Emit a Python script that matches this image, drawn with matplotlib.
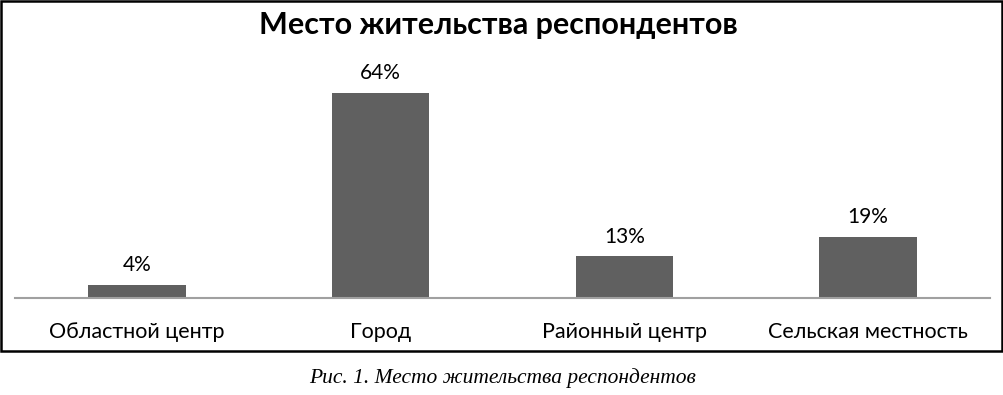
import matplotlib
matplotlib.use("Agg")
import matplotlib.pyplot as plt
from matplotlib.patches import Rectangle

categories = ["Областной центр", "Город", "Районный центр", "Сельская местность"]
values = [4, 64, 13, 19]
title = "Место жительства респондентов"
caption = "Рис. 1. Место жительства респондентов"

W, H = 1004, 395
fig = plt.figure(figsize=(W / 100, H / 100), dpi=100)

# axes placed in pixel terms: baseline at y=298, x from 15 to 990
ax = fig.add_axes([15 / W, (H - 298) / H, 975 / W, 224 / H])
x = list(range(len(categories)))
bars = ax.bar(x, values, width=0.4, color="#606060")
ax.set_xlim(-0.5, len(categories) - 0.5)
ax.set_ylim(0, 70)
ax.set_yticks([])
ax.set_xticks(x)
ax.set_xticklabels(categories, fontsize=15.5, family="Lato")
ax.tick_params(axis="x", length=0, pad=17)
for side in ["top", "left", "right"]:
    ax.spines[side].set_visible(False)
ax.spines["bottom"].set_color("#a0a0a0")
ax.spines["bottom"].set_linewidth(1.5)

for bar, v in zip(bars, values):
    ax.annotate(f"{v}%", xy=(bar.get_x() + bar.get_width() / 2, bar.get_height()),
                xytext=(0, 7), textcoords="offset points",
                ha="center", va="bottom", fontsize=15, family="Lato")

fig.text(498 / W, 1 - 25 / H, title, ha="center", va="center",
         fontsize=22, fontweight="bold", family="Lato")

# chart frame
fig.patches.append(Rectangle((1 / W, 1 - 351 / H), 1001 / W, 350 / H,
                             transform=fig.transFigure, fill=False,
                             edgecolor="black", linewidth=1.8))

fig.text(503 / W, 1 - 378 / H, caption, ha="center", va="center",
         fontsize=15.5, style="italic", family="Liberation Serif")

fig.savefig("out.png", dpi=100)
